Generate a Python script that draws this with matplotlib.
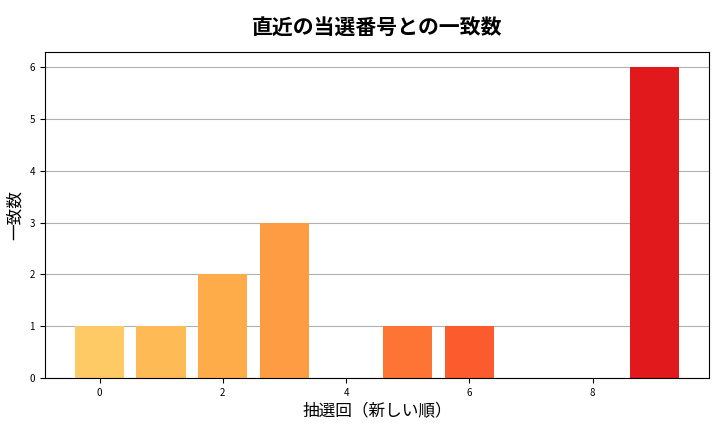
import matplotlib
matplotlib.use("Agg")
import matplotlib.pyplot as plt
import numpy as np

plt.rcParams['font.family'] = ['Noto Sans CJK JP', 'DejaVu Sans']

draws = list(range(10))
counts = [1, 1, 2, 3, 0, 1, 1, 0, 0, 6]

cmap = plt.get_cmap('YlOrRd')
colors = [cmap(v) for v in np.linspace(0.3, 0.75, len(draws))]

fig, ax = plt.subplots(figsize=(7.2, 4.32), dpi=100)
ax.bar(draws, counts, color=colors, width=0.8, zorder=2)
ax.yaxis.grid(True, color='#b0b0b0', linewidth=0.8, zorder=0)
ax.set_axisbelow(True)
ax.set_title('直近の当選番号との一致数', fontsize=15, fontweight='bold', pad=12)
ax.set_xlabel('抽選回（新しい順）', fontsize=12)
ax.set_ylabel('一致数', fontsize=12)
ax.tick_params(labelsize=7)
ax.set_xticks([0, 2, 4, 6, 8])
ax.set_ylim(0, 6.3)
fig.subplots_adjust(left=0.062, right=0.985, top=0.88, bottom=0.125)
fig.savefig('out.png', dpi=100)
